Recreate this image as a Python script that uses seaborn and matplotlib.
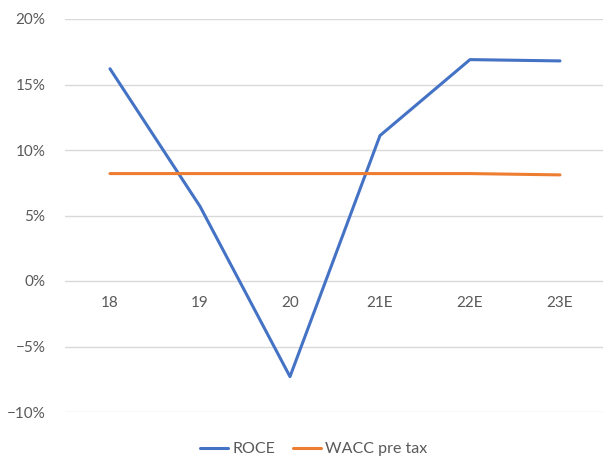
import pandas as pd
import seaborn as sns
import matplotlib.pyplot as plt
from matplotlib.ticker import PercentFormatter

# Values (in %)
years = ["18", "19", "20", "21E", "22E", "23E"]
roce = [16.2, 5.7, -7.3, 11.1, 16.9, 16.8]
wacc = [8.2, 8.2, 8.2, 8.2, 8.2, 8.1]

df = pd.DataFrame({
    "Year": years * 2,
    "Value": roce + wacc,
    "Series": ["ROCE"] * len(years) + ["WACC pre tax"] * len(years),
})
df["x"] = list(range(len(years))) * 2

sns.set_style("white")
plt.rcParams["font.family"] = ["Lato", "DejaVu Sans"]

fig = plt.figure(figsize=(6.03, 4.58), dpi=100)
ax = fig.add_axes([65 / 603, 1 - 412 / 458, 538 / 603, 393 / 458])

sns.lineplot(data=df, x="x", y="Value", hue="Series",
             palette={"ROCE": "#4472C4", "WACC pre tax": "#ED7D31"},
             linewidth=2.2, ax=ax, legend=True)

ax.set_ylim(-10, 20)
ax.set_xlim(-0.5, 5.478)
ax.set_yticks(range(-10, 21, 5))
ax.yaxis.set_major_formatter(PercentFormatter(decimals=0))
ax.grid(axis="y", color="#d9d9d9", linewidth=1)
ax.set_axisbelow(True)
ax.set_xticks([])
for s in ax.spines.values():
    s.set_visible(False)
ax.tick_params(axis="y", length=0, labelsize=11, labelcolor="#595959", pad=14)
ax.set_xlabel("")
ax.set_ylabel("")

# category labels sit just under the zero line
for i, lab in enumerate(years):
    ax.annotate(lab, xy=(i, 0), xytext=(0, -16), textcoords="offset points",
                ha="center", va="center", fontsize=11, color="#595959")

ax.legend(loc="upper center", bbox_to_anchor=(0.462, -0.04), ncol=2,
          frameon=False, fontsize=11.5, labelcolor="#595959",
          handlelength=1.75, columnspacing=1.1, handletextpad=0.25)

fig.savefig("out.png", dpi=100)
